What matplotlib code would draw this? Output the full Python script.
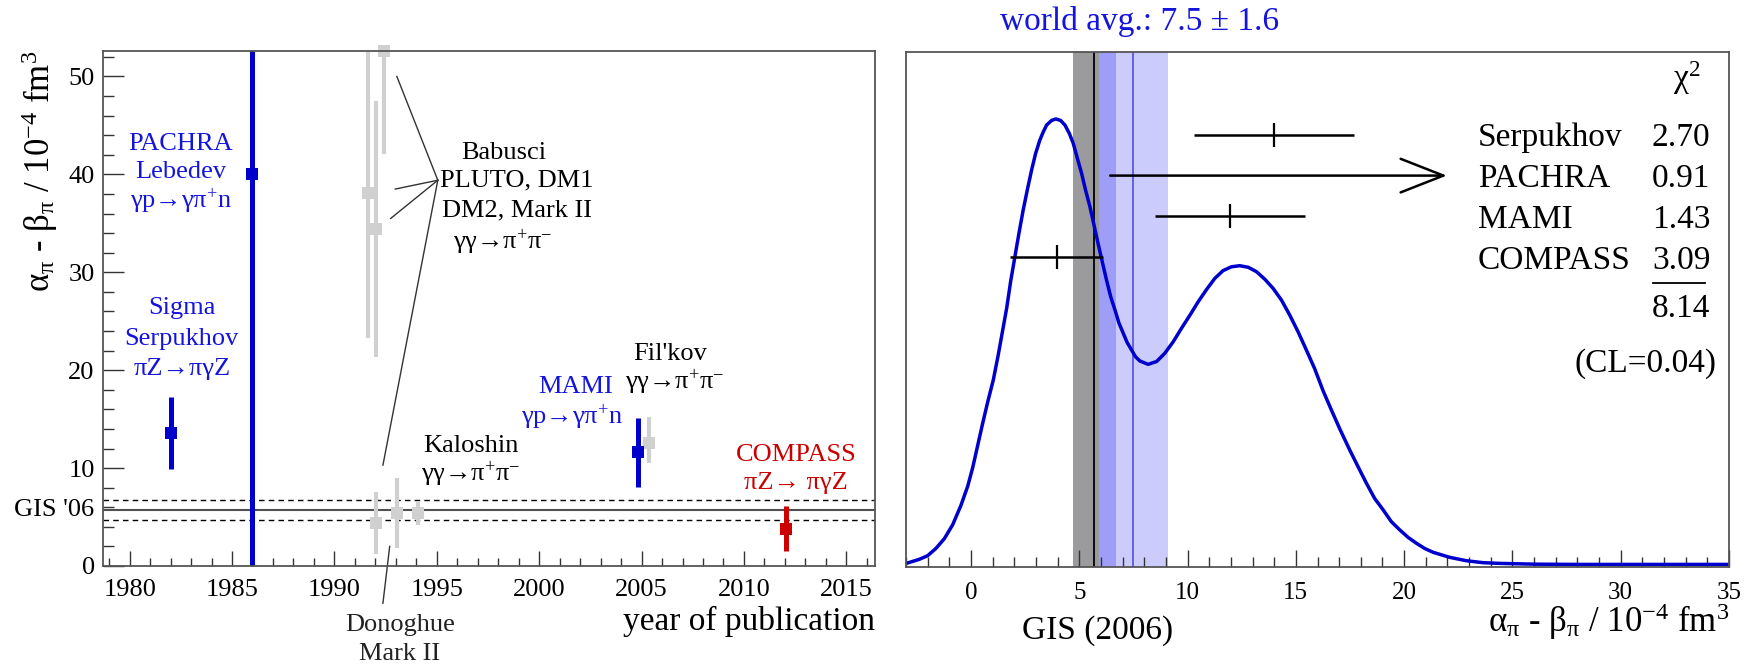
import matplotlib
matplotlib.use('Agg')
import matplotlib.pyplot as plt
from matplotlib import font_manager
from matplotlib.ticker import MultipleLocator, NullLocator
from matplotlib.transforms import blended_transform_factory
from matplotlib.patches import FancyArrowPatch

# pick a Times-like serif that is really installed
installed = {f.name for f in font_manager.fontManager.ttflist}
serif = 'DejaVu Serif'
for cand in ['Liberation Serif', 'Tinos', 'Nimbus Roman', 'STIXGeneral']:
    if cand in installed:
        serif = cand
        break

plt.rcParams['font.family'] = [serif, 'STIXGeneral', 'DejaVu Serif']
plt.rcParams['mathtext.fontset'] = 'custom'
plt.rcParams['mathtext.rm'] = serif
plt.rcParams['mathtext.it'] = serif
plt.rcParams['mathtext.bf'] = serif + ':bold'
plt.rcParams['mathtext.fallback'] = 'stix'

BLUE = '#0000cc'
TBLUE = '#1414dc'
RED = '#cc0000'
GRAY = '#d0d0d0'

# ---- left panel data: alpha-beta vs. year of publication ----
blue_names = ['Sigma Serpukhov', 'PACHRA Lebedev', 'MAMI']
blue_year = [1982.0, 1986.0, 2004.85]
blue_val = [13.6, 40.0, 11.6]
blue_lo = [3.7, 40.0, 3.5]
blue_hi = [3.7, 24.0, 3.5]

gray_names = ['PLUTO', 'DM1', 'DM2', 'Mark II', 'Donoghue Mark II', 'Kaloshin', "Fil'kov"]
gray_year = [1991.62, 1992.02, 1992.42, 1992.03, 1993.05, 1994.07, 2005.35]
gray_val = [38.1, 34.4, 52.6, 4.4, 5.4, 5.4, 12.6]
gray_lo = [14.8, 13.1, 10.5, 3.2, 3.6, 1.2, 2.1]
gray_hi = [14.8, 13.1, 14.8, 3.2, 3.6, 1.2, 2.6]

compass_year = [2012.05]
compass_val = [3.8]
compass_err = [2.3]

gis_val = 5.7
gis_err = 1.0

# ---- right panel data ----
wa_val = 7.5
wa_err = 1.6

curve_x = [-3.0, -2.88, -2.38, -2.0, -1.62, -1.23, -0.845, -0.46, -0.15, 0.08, 0.31,
           0.54, 0.77, 1.03, 1.26, 1.65, 1.83, 2.03, 2.215, 2.41, 2.60, 2.80, 2.985,
           3.18, 3.34, 3.49, 3.72, 3.92, 4.14, 4.34, 4.54, 4.72, 4.91, 5.11, 5.29,
           5.49, 5.68, 5.87, 6.06, 6.26, 6.45, 6.65, 6.83, 7.03, 7.21, 7.42, 7.60,
           7.80, 8.18, 8.57, 8.95, 9.34, 9.72, 10.11, 10.49, 10.88, 11.26, 11.64,
           12.03, 12.41, 12.80, 13.18, 13.57, 13.95, 14.34, 14.72, 15.10, 15.49,
           15.87, 16.26, 16.64, 17.03, 17.49, 17.87, 18.26, 18.64, 19.03, 19.41,
           19.80, 20.18, 20.57, 20.95, 21.34, 22.10, 22.87, 23.64, 24.41, 26.0,
           28.0, 30.0, 35.0]
curve_y = [0.007, 0.0084, 0.015, 0.022, 0.036, 0.055, 0.082, 0.120, 0.157, 0.193, 0.236,
           0.279, 0.320, 0.363, 0.412, 0.503, 0.554, 0.603, 0.648, 0.693, 0.732, 0.771, 0.803,
           0.829, 0.845, 0.858, 0.867, 0.870, 0.867, 0.858, 0.842, 0.823, 0.794, 0.764, 0.732,
           0.700, 0.664, 0.628, 0.593, 0.557, 0.525, 0.499, 0.474, 0.454, 0.436, 0.421, 0.408,
           0.400, 0.3935, 0.399, 0.415, 0.4375, 0.4635, 0.489, 0.515, 0.539, 0.5605, 0.5755,
           0.583, 0.585, 0.582, 0.5735, 0.5587, 0.541, 0.518, 0.489, 0.457, 0.421,
           0.385, 0.342, 0.305, 0.268, 0.227, 0.195, 0.1625, 0.133, 0.111, 0.088,
           0.072, 0.0576, 0.046, 0.036, 0.0285, 0.0188, 0.0122, 0.0084, 0.007, 0.0055,
           0.005, 0.005, 0.005]

chi_names = ['Serpukhov', 'PACHRA', 'MAMI', 'COMPASS']
chi_vals = ['2.70', '0.91', '1.43', '3.09']
chi_sum = '8.14'
chi_cl = '(CL=0.04)'
meas_val = [14.0, None, 11.95, 3.95]
meas_err = [3.7, None, 3.45, 2.14]
pachra_from, pachra_to = 6.3, 22.1
row_y = [0.839, 0.760, 0.681, 0.601]

fig = plt.figure(figsize=(17.52, 6.64), dpi=100)
ax1 = fig.add_axes([103 / 1752, 98 / 664, 772 / 1752, 515 / 664])
ax2 = fig.add_axes([906 / 1752, 97 / 664, 823 / 1752, 515 / 664])

# ================= left panel =================
ax1.set_xlim(1978.7, 2016.4)
ax1.set_ylim(0, 52.6)

ax1.axhline(gis_val, color='#505050', lw=1.5, zorder=1)
for s in (-1, 1):
    ax1.axhline(gis_val + s * gis_err, color='black', lw=1.0, ls=(0, (4, 3)), zorder=1)

ax1.errorbar(gray_year, gray_val, yerr=[gray_lo, gray_hi], fmt='none',
             ecolor=GRAY, elinewidth=3.0, capsize=0, zorder=2)
ax1.plot(gray_year, gray_val, 's', color=GRAY, ms=9, mew=0, zorder=2, clip_on=False)
ax1.errorbar(blue_year, blue_val, yerr=[blue_lo, blue_hi], fmt='none',
             ecolor=BLUE, elinewidth=3.6, capsize=0, zorder=3)
ax1.plot(blue_year, blue_val, 's', color=BLUE, ms=8.5, mew=0, zorder=3)
ax1.errorbar(compass_year, compass_val, yerr=compass_err, fmt='none',
             ecolor=RED, elinewidth=3.6, capsize=0, zorder=3)
ax1.plot(compass_year, compass_val, 's', color=RED, ms=8.5, mew=0, zorder=3)

# leader lines for the Babusci analysis and Donoghue
hub = (1995.05, 39.4)
for end in [(1993.05, 50.0), (1992.97, 38.5), (1992.75, 35.5), (1992.37, 10.3)]:
    ax1.plot([hub[0], end[0]], [hub[1], end[1]], color='#333333', lw=1.0, zorder=1)
ax1.plot([1992.7, 1992.37], [2.0, -3.8], color='#333333', lw=1.0, clip_on=False)

fs = 19
def label(x, y, s, c='black', ha='center'):
    ax1.text(x, y, s, color=c, fontsize=fs, ha=ha, va='center', clip_on=False)

label(1982.5, 43.1, 'PACHRA', TBLUE)
label(1982.5, 40.2, 'Lebedev', TBLUE)
label(1982.5, 37.2, r'γp→γπ$^{+}$n', TBLUE)
label(1982.55, 26.4, 'Sigma', TBLUE)
label(1982.55, 23.2, 'Serpukhov', TBLUE)
label(1982.55, 20.1, 'πZ→πγZ', TBLUE)
label(1998.25, 42.2, 'Babusci')
label(1998.9, 39.4, 'PLUTO, DM1')
label(1998.9, 36.3, 'DM2, Mark II')
label(1998.2, 33.0, r'γγ→π$^{+}$π$^{-}$')
label(1996.65, 12.3, 'Kaloshin')
label(1996.65, 9.4, r'γγ→π$^{+}$π$^{-}$')
label(2006.4, 21.7, "Fil'kov")
label(2006.6, 18.7, r'γγ→π$^{+}$π$^{-}$')
label(2001.8, 18.3, 'MAMI', TBLUE)
label(2001.6, 15.2, r'γp→γπ$^{+}$n', TBLUE)
label(2012.55, 11.3, 'COMPASS', RED)
label(2012.55, 8.5, 'πZ→ πγZ', RED)
label(1993.2, -6.0, 'Donoghue', '#222222')
label(1993.2, -9.0, 'Mark II', '#222222')

tr = blended_transform_factory(ax1.transAxes, ax1.transData)
ax1.text(-0.012, gis_val, "GIS '06", transform=tr, fontsize=19, ha='right', va='center')

ax1.xaxis.set_major_locator(MultipleLocator(5))
ax1.xaxis.set_minor_locator(MultipleLocator(1))
ax1.yaxis.set_major_locator(MultipleLocator(10))
ax1.yaxis.set_minor_locator(MultipleLocator(2))
ax1.tick_params(axis='both', which='both', direction='in', top=False, right=False,
                color='#333333', width=1.0, labelsize=19)
ax1.tick_params(axis='x', which='major', length=11, pad=9)
ax1.tick_params(axis='x', which='minor', length=5.5)
ax1.tick_params(axis='y', which='major', length=15, pad=6)
ax1.tick_params(axis='y', which='minor', length=8)
ax1.text(1.0, -0.124, 'year of publication', transform=ax1.transAxes, fontsize=24,
         ha='right', va='baseline')
ax1.text(-0.082, 1.0, r'α$_{π}$ - β$_{π}$ / 10$^{-4}$ fm$^{3}$', transform=ax1.transAxes,
         fontsize=25, rotation=90, ha='center', va='top')

# ================= right panel =================
ax2.set_xlim(-3, 35)
ax2.set_ylim(0, 1)

ax2.axvspan(gis_val - gis_err, wa_val - wa_err, color='#9b9a9c', lw=0, zorder=0)
ax2.axvspan(wa_val - wa_err, gis_val + gis_err, color='#9e9ef8', lw=0, zorder=0)
ax2.axvspan(gis_val + gis_err, wa_val + wa_err, color='#cbcbfc', lw=0, zorder=0)
ax2.axvline(gis_val, color='black', lw=1.3, zorder=1)
ax2.axvline(wa_val, color='#5050dd', lw=1.2, zorder=1)

ax2.plot(curve_x, curve_y, color=BLUE, lw=2.5, zorder=3, solid_joinstyle='round')

for v, e, y in zip(meas_val, meas_err, row_y):
    if v is None:
        continue
    ax2.errorbar([v], [y], xerr=[e], fmt='|', color='black', ms=17, mew=1.6,
                 elinewidth=1.8, capsize=0, zorder=4)
ax2.add_patch(FancyArrowPatch((pachra_from, row_y[1]), (pachra_to, row_y[1]),
                              arrowstyle='->,head_length=1.4,head_width=0.55',
                              mutation_scale=22, color='black', lw=1.8, zorder=4))

tfs = 24
ax2.text(33.07, 0.93, r'χ$^{2}$', fontsize=tfs, ha='center', va='baseline')
for name, val, y in zip(chi_names, chi_vals, row_y):
    ax2.text(23.4, y - 0.022, name, fontsize=tfs, ha='left', va='baseline')
    ax2.text(34.15, y - 0.022, val, fontsize=tfs, ha='right', va='baseline')
ax2.plot([31.47, 33.9], [0.552, 0.552], color='black', lw=1.3)
ax2.text(34.15, 0.486, chi_sum, fontsize=tfs, ha='right', va='baseline')
ax2.text(34.4, 0.38, chi_cl, fontsize=tfs, ha='right', va='baseline')

ax2.text(7.8, 1.043, 'world avg.: %.1f ± %.1f' % (wa_val, wa_err), color=TBLUE,
         fontsize=24, ha='center', va='baseline', clip_on=False)
ax2.text(5.86, -0.139, 'GIS (2006)', fontsize=24, ha='center', va='baseline',
         transform=blended_transform_factory(ax2.transData, ax2.transAxes))
ax2.text(1.0, -0.126, r'α$_{π}$ - β$_{π}$ / 10$^{-4}$ fm$^{3}$', transform=ax2.transAxes,
         fontsize=25, ha='right', va='baseline')

ax2.xaxis.set_major_locator(MultipleLocator(5))
ax2.xaxis.set_minor_locator(MultipleLocator(1))
ax2.yaxis.set_major_locator(NullLocator())
ax2.tick_params(axis='x', which='both', direction='in', top=False, color='#333333',
                width=1.0, labelsize=18)
ax2.tick_params(axis='x', which='major', length=12, pad=10.5)
ax2.tick_params(axis='x', which='minor', length=7)

for ax in (ax1, ax2):
    for sp in ax.spines.values():
        sp.set_color('#555555')
        sp.set_linewidth(1.3)
        sp.set_zorder(5)

fig.savefig('out.png', dpi=100)
